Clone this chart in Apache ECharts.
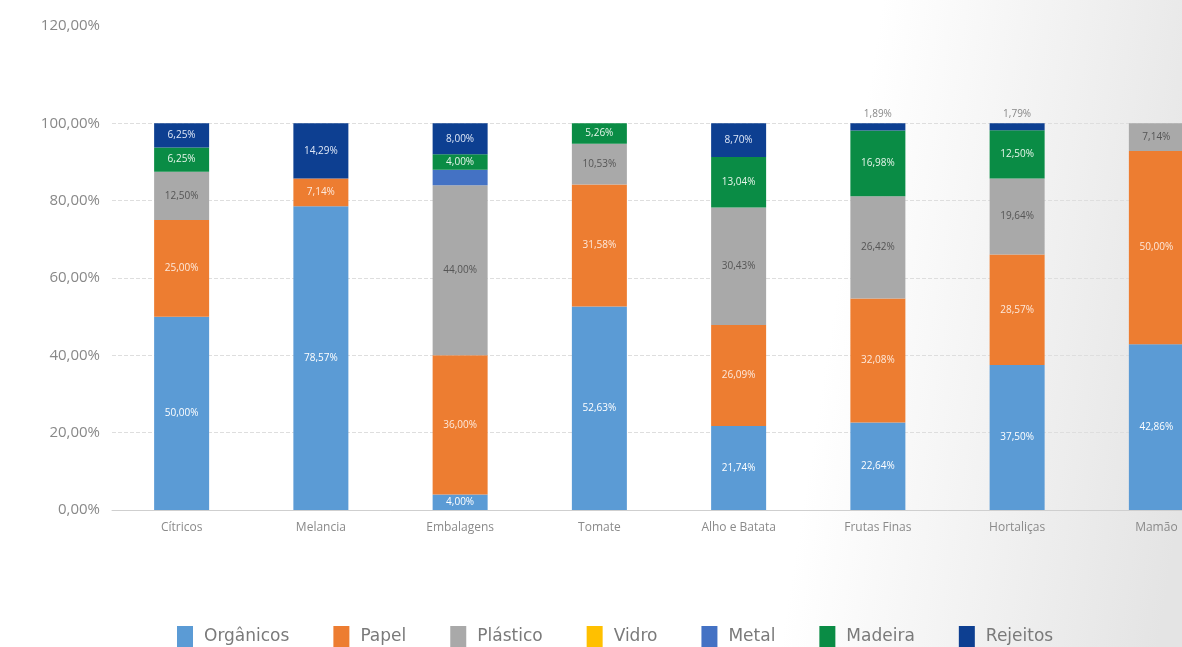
<!DOCTYPE html>
<html>
<head>
<meta charset="utf-8">
<script src="https://cdn.jsdelivr.net/npm/echarts@6/dist/echarts.min.js"></script>
<style>
html,body{margin:0;padding:0;background:#fff;overflow:hidden;}
#c{width:1230px;height:647px;}
</style>
</head>
<body>
<div id="c"></div>
<script>
const categories = ['Cítricos','Melancia','Embalagens','Tomate','Alho e Batata','Frutas Finas','Hortaliças','Mamão'];
const organicos = [50.00, 78.57, 4.00, 52.63, 21.74, 22.64, 37.50, 42.86];
const papel     = [25.00, 7.14, 36.00, 31.58, 26.09, 32.08, 28.57, 50.00];
const plastico  = [12.50, 0, 44.00, 10.53, 30.43, 26.42, 19.64, 7.14];
const vidro     = [0, 0, 0, 0, 0, 0, 0, 0];
const metal     = [0, 0, 4.00, 0, 0, 0, 0, 0];
const madeira   = [6.25, 0, 4.00, 5.26, 13.04, 16.98, 12.50, 0];
const rejeitos  = [6.25, 14.29, 8.00, 0, 8.70, 1.89, 1.79, 0];
const yTicks = [0, 20, 40, 60, 80, 100, 120];

const seriesDefs = [
  {name:'Orgânicos', data:organicos, color:'#5B9BD5', label:'#ffffff'},
  {name:'Papel', data:papel, color:'#ED7D31', label:'#fde9dc'},
  {name:'Plástico', data:plastico, color:'#A9A9A9', label:'#555555'},
  {name:'Vidro', data:vidro, color:'#FFC000', label:'#ffffff'},
  {name:'Metal', data:metal, color:'#4472C4', label:'#ffffff', hide:true},
  {name:'Madeira', data:madeira, color:'#0A8C45', label:'#e6f5ea'},
  {name:'Rejeitos', data:rejeitos, color:'#0D3F91', label:'#dfe8f7'}
];

const fmt = v => v.toFixed(2).replace('.', ',') + '%';

const series = seriesDefs.map(s => ({
  name: s.name,
  type: 'bar',
  stack: 'total',
  barWidth: 55,
  itemStyle: {color: s.color},
  label: {
    show: !s.hide,
    position: 'inside',
    color: s.label,
    fontSize: 10,
    fontFamily: 'Open Sans',
    formatter: p => (p.value > 0 ? fmt(p.value) : '')
  },
  data: s.data.map(v => {
    if (!v) return {value: null};
    if (v < 3) return {value: v, label: {position: 'top', color: '#888', distance: 4}};
    return {value: v};
  })
}));

const chart = echarts.init(document.getElementById('c'));
chart.setOption({
  backgroundColor: '#fff',
  animation: false,
  graphic: [{
    type: 'rect', z: -10, silent: true,
    shape: {x: 0, y: 0, width: 1230, height: 647},
    style: {fill: new echarts.graphic.LinearGradient(0, 0, 1, 0.3, [
      {offset: 0, color: '#ffffff'},
      {offset: 0.7, color: '#ffffff'},
      {offset: 1, color: '#e4e4e4'}
    ])}
  }],
  grid: {left: 112, top: 46, width: 1114, bottom: 137, containLabel: false},
  legend: {
    left: 172, top: 621,
    icon: 'rect', itemWidth: 16, itemHeight: 22, itemGap: 44,
    textStyle: {fontSize: 17, color: '#7a7a7a', fontFamily: 'DejaVu Sans', padding: [0, 0, 0, 6]},
    data: seriesDefs.map(s => s.name)
  },
  xAxis: {
    type: 'category',
    data: categories,
    axisLine: {lineStyle: {color: '#cfcfcf'}},
    axisTick: {show: false},
    axisLabel: {color: '#8a8a8a', fontSize: 12, fontFamily: 'Open Sans', margin: 12}
  },
  yAxis: {
    type: 'value',
    min: yTicks[0], max: yTicks[yTicks.length - 1], interval: 20,
    axisLine: {show: false},
    axisTick: {show: false},
    splitLine: {show: true, showMaxLine: false, lineStyle: {color: '#dedede', type: 'dashed'}},
    axisLabel: {
      color: '#888', fontSize: 15, fontFamily: 'Open Sans', margin: 12,
      formatter: v => v === 120 ? '{t|' + fmt(v) + '}' : fmt(v),
      rich: {t: {color: '#888', fontSize: 15, fontFamily: 'Open Sans', padding: [0, 0, 40, 0]}}
    }
  },
  series: series
});
</script>
</body>
</html>
